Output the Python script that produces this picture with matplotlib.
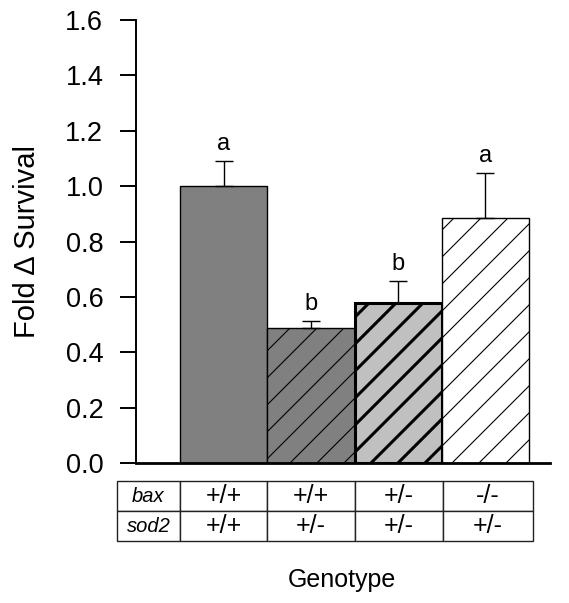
import matplotlib
matplotlib.use("Agg")
import matplotlib.pyplot as plt
import numpy as np

# Fold change in survival per genotype (mean and upper SEM)
genotypes = ["bax +/+ sod2 +/+", "bax +/+ sod2 +/-", "bax +/- sod2 +/-", "bax -/- sod2 +/-"]
survival = [1.00, 0.488, 0.579, 0.886]
sem = [0.092, 0.026, 0.078, 0.160]
letters = ["a", "b", "b", "a"]
bax_row = ["+/+", "+/+", "+/-", "-/-"]
sod2_row = ["+/+", "+/-", "+/-", "+/-"]

faces = ["#808080", "#808080", "#c0c0c0", "white"]
edge_lw = [1.0, 1.0, 2.2, 1.0]
hatch_lw = [0.8, 0.8, 2.2, 0.8]
hatched = [False, True, True, True]

plt.rcParams["font.family"] = ["Liberation Sans", "DejaVu Sans"]

W, H = 569, 603
fig = plt.figure(figsize=(W / 100, H / 100), dpi=100)
ax = fig.add_axes([136 / W, (H - 463) / H, 414 / W, 443 / H])

x = np.arange(len(survival))
bars = ax.bar(x, survival, width=1.0, color=faces, edgecolor="black",
              linewidth=edge_lw, zorder=2)
ax.errorbar(x, survival, yerr=[np.zeros(len(sem)), sem], fmt="none",
            ecolor="black", elinewidth=1.0, capsize=6.5, capthick=1.0, zorder=3)
for xi, v, e, lab in zip(x, survival, sem, letters):
    ax.text(xi, v + e + 0.04, lab, ha="center", va="baseline", fontsize=17)

ax.set_xlim(-1.006, 3.74)
ax.set_ylim(0, 1.6)
ticks = np.arange(0, 1.61, 0.2)
ax.set_yticks(ticks)
ax.set_yticklabels([f"{t:.1f}" for t in ticks], fontsize=19.5)
ax.set_xticks([])
ax.tick_params(axis="y", length=11.5, width=1.4, pad=12)
for s in ("top", "right"):
    ax.spines[s].set_visible(False)
ax.spines["left"].set_linewidth(1.4)
ax.spines["bottom"].set_linewidth(2.0)
ax.spines["bottom"].set_zorder(5)
ax.set_ylabel("Fold \u0394 Survival", fontsize=21, va="center")
ax.yaxis.set_label_coords((27 - 136) / 414, 0.5)

# 45-degree hatching, 27 px apart, clipped to each bar
step = 27.0
inv = ax.transData.inverted()
for bar, do_hatch, lw in zip(bars, hatched, hatch_lw):
    if not do_hatch:
        continue
    (x0, y0), (x1, y1) = ax.transData.transform(
        [(bar.get_x(), 0), (bar.get_x() + bar.get_width(), bar.get_height())])
    cmin, cmax = y0 - x1, y1 - x0
    for c in np.arange(np.floor(cmin / step) * step + 12, cmax + step, step):
        pts = inv.transform([(x0 - 5, x0 - 5 + c), (x1 + 5, x1 + 5 + c)])
        ln, = ax.plot(pts[:, 0], pts[:, 1], color="black", lw=lw,
                      solid_capstyle="butt", zorder=2.5)
        ln.set_clip_path(bar)

# genotype table under the bars
col_px = [117, 180, 267, 355, 443, 533]
widths = np.diff(col_px) / 414
cells = [["bax"] + bax_row, ["sod2"] + sod2_row]
tab = ax.table(cellText=cells, cellLoc="center", colWidths=list(widths),
               bbox=[(117 - 136) / 414, (463 - 541) / 443,
                     (533 - 117) / 414, 60 / 443])
tab.auto_set_font_size(False)
for (r, c), cell in tab.get_celld().items():
    cell.set_linewidth(1.0)
    cell.set_edgecolor("#222222")
    if c == 0:
        cell.set_text_props(fontstyle="italic", fontsize=14.5)
    else:
        cell.set_text_props(fontsize=18)

fig.text(342 / W, 1 - 580 / H, "Genotype", ha="center", va="center", fontsize=18)

fig.savefig("out.png", dpi=100)
